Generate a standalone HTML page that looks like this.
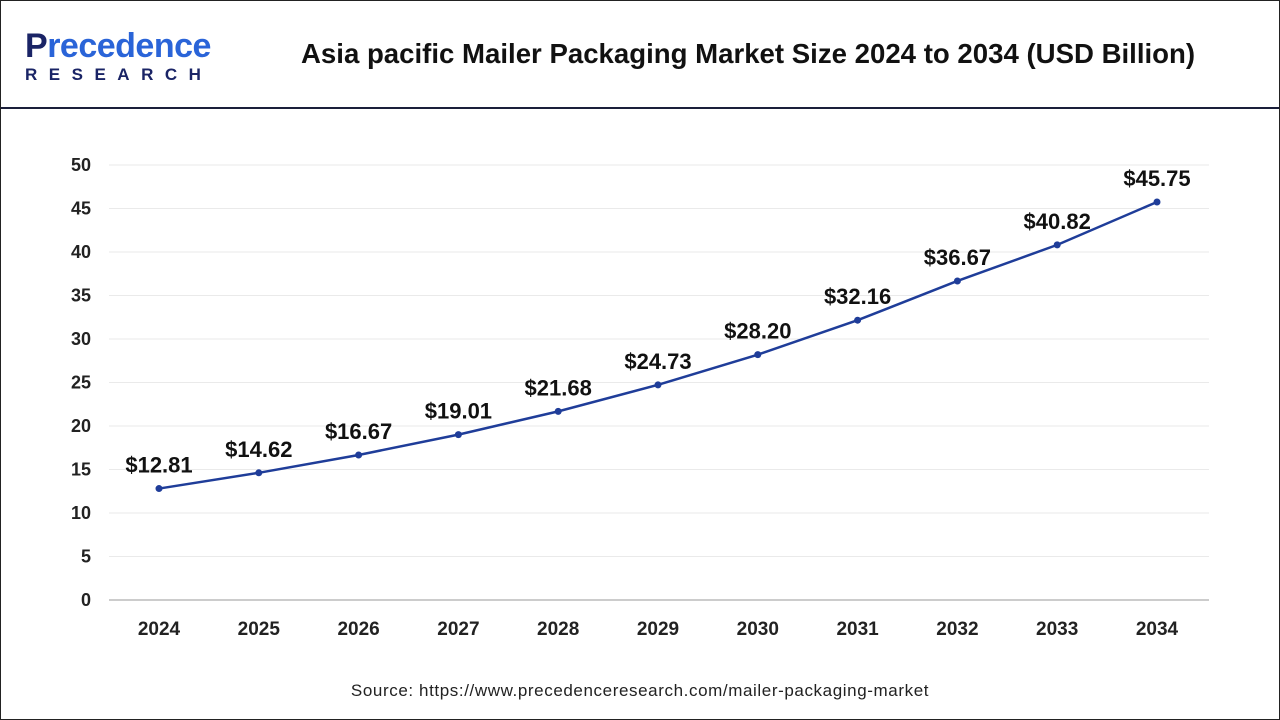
<!DOCTYPE html>
<html><head><meta charset="utf-8"><style>
body{margin:0;background:#fff;font-family:"Liberation Sans",sans-serif;}
#frame{position:relative;width:1278px;height:718px;border:1px solid #222;overflow:hidden;}
#hdr{position:absolute;left:0;top:0;width:1278px;height:106px;border-bottom:2px solid #1a1f3a;}
</style></head><body>
<div id="frame">
<div id="hdr">
 <div style="position:absolute;left:24px;top:28px;">
  <div style="font-size:34px;font-weight:bold;letter-spacing:-0.5px;line-height:34px;color:#2a64d8;"><span style="color:#1a2466">P</span>recedence</div>
  <div style="font-size:17px;font-weight:bold;letter-spacing:11.5px;color:#1a2466;margin-top:2px;">RESEARCH</div>
 </div>
 <div style="position:absolute;left:300px;top:37px;font-size:27.6px;font-weight:bold;color:#111;white-space:nowrap;">Asia pacific Mailer Packaging Market Size 2024 to 2034 (USD Billion)</div>
</div>
<svg id="chart" width="1278" height="718" style="position:absolute;left:0;top:0"></svg>
<div style="position:absolute;left:0;width:1278px;top:680px;text-align:center;font-size:17px;letter-spacing:0.6px;color:#222;">Source: https://www.precedenceresearch.com/mailer-packaging-market</div>
</div>
<script>
const years=["2024","2025","2026","2027","2028","2029","2030","2031","2032","2033","2034"];
const values=[12.81,14.62,16.67,19.01,21.68,24.73,28.20,32.16,36.67,40.82,45.75];
const labels=["$12.81","$14.62","$16.67","$19.01","$21.68","$24.73","$28.20","$32.16","$36.67","$40.82","$45.75"];
const yTicks=[0,5,10,15,20,25,30,35,40,45,50];
const ns="http://www.w3.org/2000/svg";
const svg=document.getElementById('chart');
const X=i=>158+i*(1156-158)/(years.length-1);
const Y=v=>599-v*(599-164)/50;
function mk(t,a){const e=document.createElementNS(ns,t);for(const k in a)e.setAttribute(k,a[k]);svg.appendChild(e);return e;}
yTicks.forEach(t=>{
 const g=mk('line',{x1:108,x2:1208,y1:Y(t),y2:Y(t),stroke:t===0?'#999':'#eaeaea','stroke-width':1});
 
 
 const l=mk('text',{x:90,y:Y(t)+6,'text-anchor':'end','font-size':18,'font-weight':'bold',fill:'#222'});
 l.textContent=t;
 
 
});
years.forEach((y,i)=>{
 const l=mk('text',{x:X(i),y:634,'text-anchor':'middle','font-size':19,'font-weight':'bold',fill:'#222'});
 l.textContent=y;
 
 
});
const line=mk('polyline',{points:values.map((v,i)=>X(i)+','+Y(v)).join(' '),fill:'none',stroke:'#1f3d99','stroke-width':2.5});


values.forEach((v,i)=>{
 const c=mk('circle',{cx:X(i),cy:Y(v),r:3.5,fill:'#1f3d99'});
 
 
 const t=mk('text',{x:X(i),y:Y(v)-16,'text-anchor':'middle','font-size':22,'font-weight':'bold',fill:'#111'});
 t.textContent=labels[i];
 
 
});
</script>
</body></html>
